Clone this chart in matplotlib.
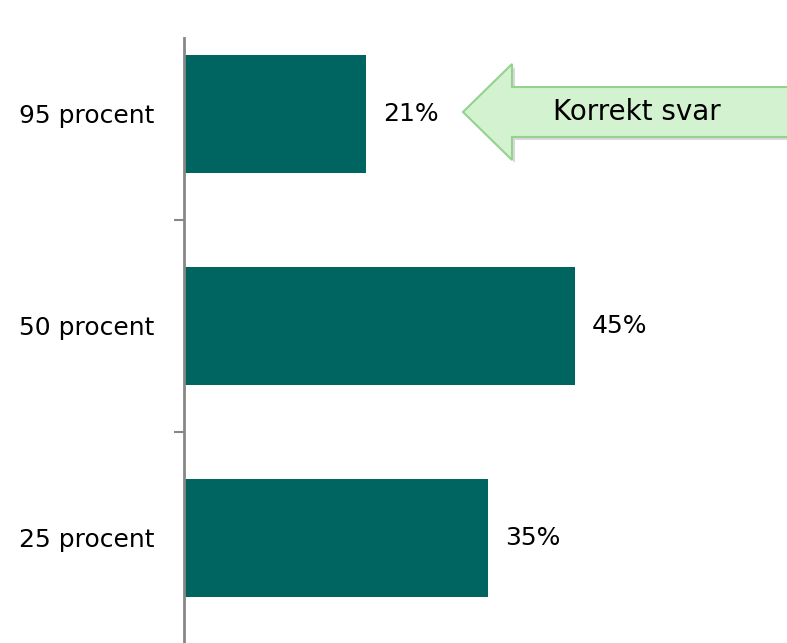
import matplotlib.pyplot as plt
from matplotlib.patches import Polygon

categories = ['25 procent', '50 procent', '95 procent']
values = [35, 45, 21]
labels = ['35%', '45%', '21%']

fig = plt.figure(figsize=(7.87, 6.43), dpi=100)
W, H = 787, 643
# axes: data -0.5 at y=644px (from top), 2.5 at y=8px
ax = fig.add_axes([184 / W, (H - 644) / H, (W - 184) / W, 636 / H])

bar_color = '#006461'
ax.barh(range(len(categories)), values, height=0.556, color=bar_color)
ax.set_xlim(0, (W - 184) / 8.69)
ax.set_ylim(-0.5, 2.5)

for i, (v, lab) in enumerate(zip(values, labels)):
    ax.text(v + 1.9, i, lab, va='center', ha='left', fontsize=18, color='black')

ax.set_yticks(range(len(categories)))
ax.set_yticklabels(categories, fontsize=18)
ax.tick_params(axis='y', length=0, pad=21)
ax.set_yticks([0.5, 1.5], minor=True)
ax.tick_params(axis='y', which='minor', length=7, width=1.5, color='#878787')
ax.set_xticks([])
for s in ['top', 'right', 'bottom']:
    ax.spines[s].set_visible(False)
ax.spines['left'].set_color('#878787')
ax.spines['left'].set_linewidth(2)
ax.spines['left'].set_bounds(-0.5, 2.5 - 30 / 212)

# "Korrekt svar" arrow in figure pixel coordinates
def px(x, y):
    return (x / W, 1 - y / H)

pts = [(463, 112), (512, 64), (512, 87), (800, 87), (800, 137), (512, 137), (512, 160)]
shadow = Polygon([px(x + 3, y + 3) for x, y in pts], closed=True,
                 transform=fig.transFigure, facecolor='#000000', alpha=0.15,
                 edgecolor='none', zorder=4)
arrow = Polygon([px(x, y) for x, y in pts], closed=True, transform=fig.transFigure,
                facecolor='#d3f2cf', edgecolor='#93d28f', linewidth=1.5, zorder=5)
fig.add_artist(shadow)
fig.add_artist(arrow)
fig.text(*px(637, 112), 'Korrekt svar', fontsize=20, ha='center', va='center',
         color='black', zorder=6)

fig.savefig('out.png', dpi=100)
